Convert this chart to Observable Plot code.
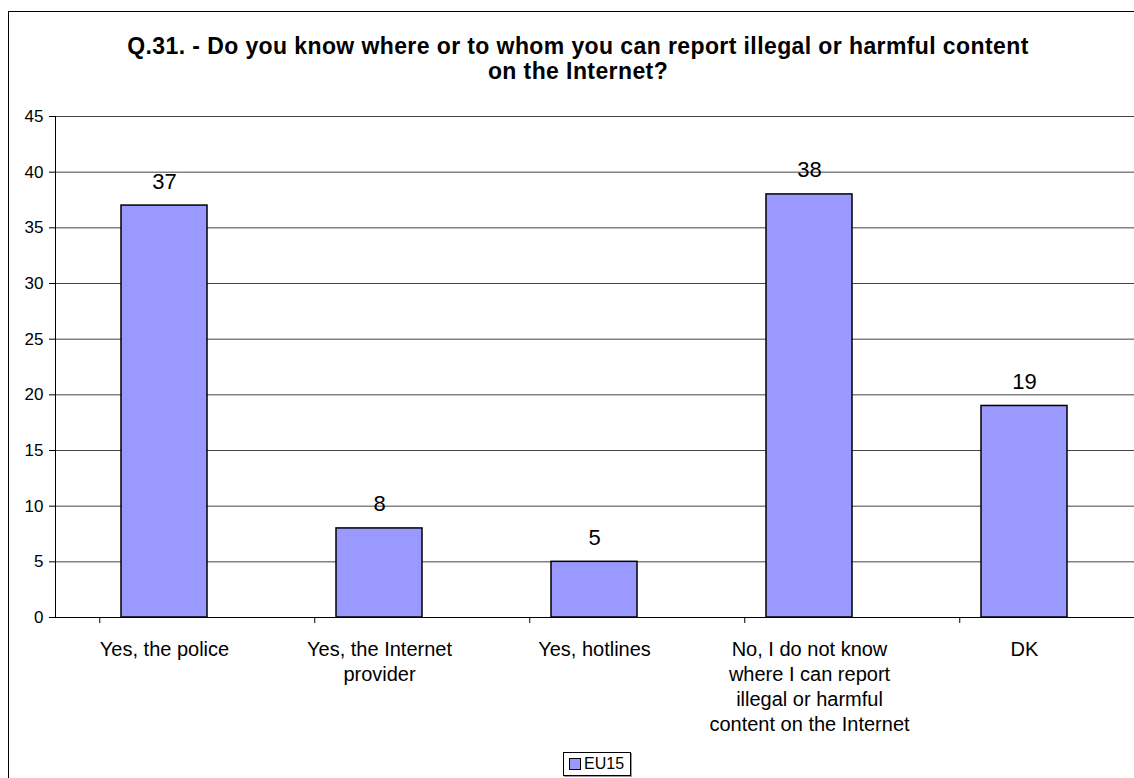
<!DOCTYPE html>
<html>
<head>
<meta charset="utf-8">
<script src="https://cdn.jsdelivr.net/npm/d3@7"></script>
<script src="https://cdn.jsdelivr.net/npm/@observablehq/plot@0.6"></script>
<style>
  html, body { margin: 0; padding: 0; background: #fff; overflow: hidden; }
  #stage { position: relative; width: 1134px; height: 778px; overflow: hidden; font-family: "Liberation Sans", Arial, sans-serif; }
  #frame { position: absolute; left: 8px; top: 11px; width: 1200px; height: 900px; border: 1.5px solid #000; box-sizing: border-box; }
  #title { position: absolute; left: 0; top: 34px; width: 1156px; text-align: center; font-family: "Liberation Sans", Arial, sans-serif; font-weight: bold; font-size: 23px; letter-spacing: 0.4px; line-height: 25px; color: #000; }
  #chart { position: absolute; left: 0; top: 100px; }
  #legend { position: absolute; left: 563px; top: 752px; height: 24px; padding: 0 6px 0 5px; border: 1px solid #000; box-shadow: 1px 1px 0 #999; display: flex; align-items: center; font-size: 16px; background: #fff; box-sizing: border-box; }
  #legend .sw { width: 10px; height: 10px; background: #9999FF; border: 1px solid #000; margin-right: 3px; }
</style>
</head>
<body>
<div id="stage">
  <div id="frame"></div>
  <div id="title"></div>
  <div id="chart"></div>
  <div id="legend"></div>
</div>
<script>
const titleLines = ["Q.31. - Do you know where or to whom you can report illegal or harmful content", "on the Internet?"];
const categories = ["Yes, the police", "Yes, the Internet provider", "Yes, hotlines", "No, I do not know where I can report illegal or harmful content on the Internet", "DK"];
const categoryLabels = ["Yes, the police", "Yes, the Internet\nprovider", "Yes, hotlines", "No, I do not know\nwhere I can report\nillegal or harmful\ncontent on the Internet", "DK"];
const values = [37, 8, 5, 38, 19];
const yTicks = [0, 5, 10, 15, 20, 25, 30, 35, 40, 45];
const seriesName = "EU15";

const data = categories.map((c, i) => ({category: c, label: categoryLabels[i], value: values[i]}));

const width = 1134, height = 650;
const marginLeft = 55, marginRight = 0, marginTop = 16, marginBottom = 133;
const step = (width - marginLeft - marginRight) / categories.length;
const padInner = 0.6;

const chart = Plot.plot({
  width, height, marginLeft, marginRight, marginTop, marginBottom,
  style: {fontFamily: "'Liberation Sans', Arial, sans-serif", background: "transparent", color: "#000"},
  x: {type: "band", domain: categories, paddingInner: padInner, paddingOuter: padInner / 2, axis: null},
  y: {domain: [0, 45], ticks: yTicks, axis: null},
  marks: [
    Plot.gridY(yTicks.filter(t => t > 0), {stroke: "#444", strokeOpacity: 1, strokeWidth: 1}),
    Plot.barY(data, {x: "category", y: "value", fill: "#9999FF", stroke: "#000", strokeWidth: 1.5}),
    Plot.ruleY([0], {stroke: "#000", strokeWidth: 1.2}),
    Plot.frame({anchor: "left", stroke: "#000"}),
    Plot.axisY({ticks: yTicks, tickSize: 6, text: null, stroke: "#000", label: null}),
    Plot.text(yTicks, {y: d => d, text: d => String(d), frameAnchor: "left", dx: -12, textAnchor: "end", fontSize: 17, fill: "#000"}),
    Plot.ruleX(categories, {x: d => d, dx: -padInner / 2 * step, y1: 0, y2: 0, insetBottom: -6, stroke: "#000"}),
    Plot.text(data, {x: "category", y: "value", text: d => String(d.value), lineAnchor: "bottom", dy: -17, fontSize: 22, fill: "#000"}),
    Plot.text(data, {x: "category", y: 0, text: "label", lineAnchor: "top", dy: 21, fontSize: 20, lineHeight: 1.25, fill: "#000"})
  ]
});
document.getElementById("chart").appendChild(chart);

const t = document.getElementById("title");
titleLines.forEach(l => { const d = document.createElement("div"); d.textContent = l; t.appendChild(d); });

const lg = document.getElementById("legend");
const sw = document.createElement("span"); sw.className = "sw"; lg.appendChild(sw);
const tx = document.createElement("span"); tx.textContent = seriesName; lg.appendChild(tx);
</script>
</body>
</html>
